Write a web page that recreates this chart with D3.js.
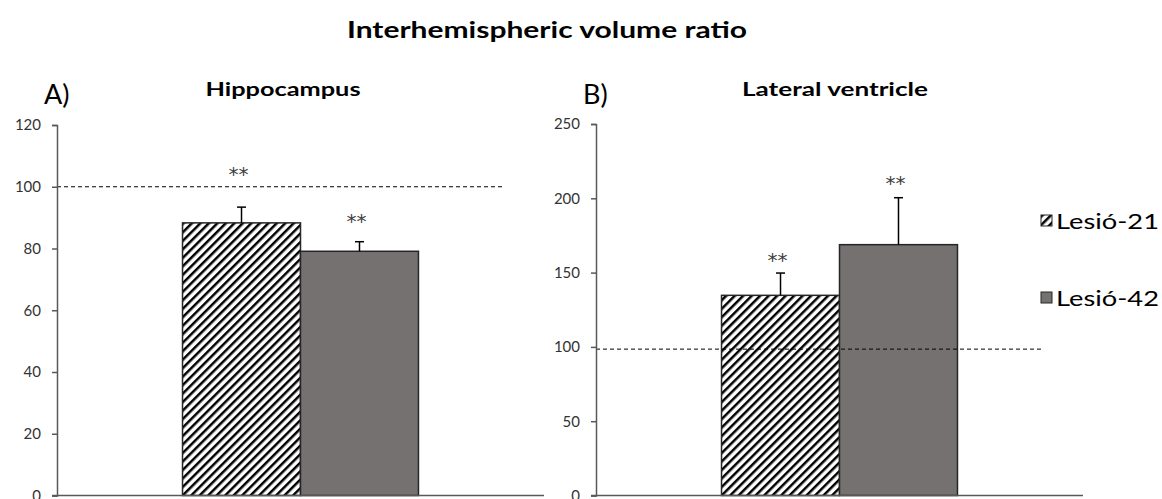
<!DOCTYPE html>
<html>
<head>
<meta charset="utf-8">
<script src="https://cdn.jsdelivr.net/npm/d3@7"></script>
<style>
    body { margin: 0; background: #ffffff; }
    svg { display: block; font-family: Lato, "Open Sans", sans-serif; }
</style>
</head>
<body>
<div id="chart"></div>
<script>
// data
const series = ["Lesió-21", "Lesió-42"];
const hippoMeans = [88.3, 79.1];
const hippoErrors = [5.1, 3.1];
const hippoStars = [104.9, 89.5];   // value level where the ** sits
const hippoRef = 100;
const hippoTicks = [0, 20, 40, 60, 80, 100, 120];

const ventMeans = [134.7, 168.8];
const ventErrors = [15.0, 31.6];
const ventStars = [159.8, 211.6];
const ventRef = 98.5;
const ventTicks = [0, 50, 100, 150, 200, 250];

const barFills = ["url(#hatch)", "#767171"];

const svg = d3.select("#chart").append("svg")
    .attr("width", 1162)
    .attr("height", 499);

// diagonal hatch
const pattern = svg.append("defs").append("pattern")
    .attr("id", "hatch")
    .attr("patternUnits", "userSpaceOnUse")
    .attr("width", 6)
    .attr("height", 6)
    .attr("patternTransform", "rotate(45)");
pattern.append("rect").attr("width", 6).attr("height", 6).attr("fill", "#ffffff");
pattern.append("rect").attr("x", 0).attr("width", 2.5).attr("height", 6).attr("fill", "#000000");

svg.append("text")
    .attr("x", 547)
    .attr("y", 38)
    .attr("text-anchor", "middle")
    .attr("font-size", 22)
    .attr("font-weight", "bold")
    .attr("fill", "#000")
    .attr("textLength", 400)
    .attr("lengthAdjust", "spacingAndGlyphs")
    .text("Interhemispheric volume ratio");

function drawPanel(opts) {
    const g = svg.append("g").attr("transform", "translate(" + opts.left + ",0)");
    const width = 487;

    const y = d3.scaleLinear().domain([0, opts.max]).range([opts.bottom, opts.top]);
    const x = d3.scaleBand().domain(series).range([0, width]).paddingInner(0).paddingOuter(1.064);

    // letter + title
    g.append("text")
        .attr("x", -13)
        .attr("y", 104)
        .attr("font-size", 27)
        .attr("fill", "#000")
        .text(opts.letter);
    g.append("text")
        .attr("x", opts.titleX)
        .attr("y", 96)
        .attr("text-anchor", "middle")
        .attr("font-size", 19)
        .attr("font-weight", "bold")
        .attr("fill", "#000")
        .attr("textLength", opts.titleLen)
        .attr("lengthAdjust", "spacingAndGlyphs")
        .text(opts.title);

    // bars
    g.selectAll("rect.bar")
        .data(opts.means)
        .enter()
        .append("rect")
        .attr("class", "bar")
        .attr("x", function (d, i) { return x(series[i]); })
        .attr("y", function (d) { return y(d); })
        .attr("width", x.bandwidth())
        .attr("height", function (d) { return y(0) - y(d); })
        .attr("fill", function (d, i) { return barFills[i]; })
        .attr("stroke", "#262626")
        .attr("stroke-width", 1.5);

    // error bars (upper only)
    opts.means.forEach(function (m, i) {
        const cx = x(series[i]) + x.bandwidth() / 2;
        const top = y(m + opts.errors[i]);
        g.append("line")
            .attr("x1", cx).attr("x2", cx)
            .attr("y1", y(m)).attr("y2", top)
            .attr("stroke", "#000").attr("stroke-width", 1.5);
        g.append("line")
            .attr("x1", cx - 4.5).attr("x2", cx + 4.5)
            .attr("y1", top).attr("y2", top)
            .attr("stroke", "#000").attr("stroke-width", 1.5);
        g.append("text")
            .attr("x", cx - 3)
            .attr("y", y(opts.stars[i]) + 9)
            .attr("text-anchor", "middle")
            .attr("font-size", 20)
            .attr("font-family", "'DejaVu Sans', sans-serif")
            .attr("fill", "#404040")
            .text("**");
    });

    // reference line
    g.append("line")
        .attr("x1", 0)
        .attr("x2", 445)
        .attr("y1", y(opts.ref))
        .attr("y2", y(opts.ref))
        .attr("stroke", "#000")
        .attr("stroke-width", 1)
        .attr("stroke-dasharray", "4,3");

    // axes
    const yAxis = g.append("g")
        .call(d3.axisLeft(y).tickValues(opts.ticks).tickSize(5).tickPadding(11));
    yAxis.select(".domain").attr("stroke", "#595959").attr("stroke-width", 1.5);
    yAxis.selectAll(".tick line").attr("stroke", "#595959").attr("stroke-width", 1.5);
    yAxis.selectAll(".tick text")
        .attr("font-size", 15)
        .attr("font-family", "Lato, sans-serif")
        .attr("fill", "#333");

    g.append("line")
        .attr("x1", -5)
        .attr("x2", width)
        .attr("y1", y(0))
        .attr("y2", y(0))
        .attr("stroke", "#595959")
        .attr("stroke-width", 1.5);
}

drawPanel({
    left: 57, top: 125, bottom: 495.5, max: 120,
    letter: "A)", title: "Hippocampus", titleX: 226, titleLen: 155,
    means: hippoMeans, errors: hippoErrors, stars: hippoStars, ref: hippoRef, ticks: hippoTicks
});
drawPanel({
    left: 596, top: 124, bottom: 495.5, max: 250,
    letter: "B)", title: "Lateral ventricle", titleX: 239, titleLen: 186,
    means: ventMeans, errors: ventErrors, stars: ventStars, ref: ventRef, ticks: ventTicks
});

// legend
const legend = svg.append("g").attr("transform", "translate(1041,215)");
series.forEach(function (s, i) {
    legend.append("rect")
        .attr("x", 0)
        .attr("y", i * 77)
        .attr("width", 11)
        .attr("height", 11)
        .attr("fill", barFills[i])
        .attr("stroke", "#262626")
        .attr("stroke-width", 1);
    legend.append("text")
        .attr("x", 15)
        .attr("y", i * 77 + 14)
        .attr("font-size", 22)
        .attr("fill", "#000")
        .attr("textLength", 103)
        .attr("lengthAdjust", "spacingAndGlyphs")
        .text(s);
});
</script>
</body>
</html>
